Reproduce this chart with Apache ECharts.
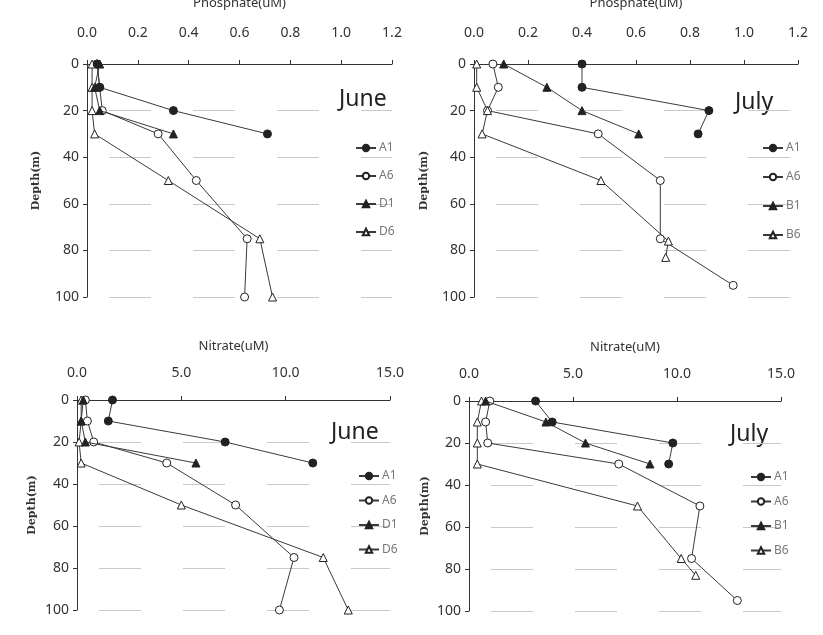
<!DOCTYPE html>
<html><head><meta charset="utf-8">
<script src="https://cdn.jsdelivr.net/npm/echarts@6/dist/echarts.min.js"></script>
<style>html,body{margin:0;padding:0;background:#fff}#c{width:823px;height:635px}</style>
</head><body><div id="c"></div>
<script>
// ---- data ----
const depthTicks = [0, 20, 40, 60, 80, 100];
const phosTicks = [0, 0.2, 0.4, 0.6, 0.8, 1.0, 1.2];
const nitTicks = [0, 5, 10, 15];

// June phosphate
const junPhosA1Depth = [0, 10, 20, 30];
const junPhosA1 = [0.04, 0.05, 0.34, 0.71];
const junPhosA6Depth = [0, 10, 20, 30, 50, 75, 100];
const junPhosA6 = [0.04, 0.05, 0.06, 0.28, 0.43, 0.63, 0.62];
const junPhosD1Depth = [0, 10, 20, 30];
const junPhosD1 = [0.05, 0.03, 0.05, 0.34];
const junPhosD6Depth = [0, 10, 20, 30, 50, 75, 100];
const junPhosD6 = [0.02, 0.02, 0.02, 0.03, 0.32, 0.68, 0.73];

// July phosphate
const julPhosA1Depth = [0, 10, 20, 30];
const julPhosA1 = [0.40, 0.40, 0.87, 0.83];
const julPhosA6Depth = [0, 10, 20, 30, 50, 75, 95];
const julPhosA6 = [0.07, 0.09, 0.05, 0.46, 0.69, 0.69, 0.96];
const julPhosB1Depth = [0, 10, 20, 30];
const julPhosB1 = [0.11, 0.27, 0.40, 0.61];
const julPhosB6Depth = [0, 10, 20, 30, 50, 76, 83];
const julPhosB6 = [0.01, 0.01, 0.05, 0.03, 0.47, 0.72, 0.71];

// June nitrate
const junNitA1Depth = [0, 10, 20, 30];
const junNitA1 = [1.7, 1.5, 7.1, 11.3];
const junNitA6Depth = [0, 10, 20, 30, 50, 75, 100];
const junNitA6 = [0.4, 0.5, 0.8, 4.3, 7.6, 10.4, 9.7];
const junNitD1Depth = [0, 10, 20, 30];
const junNitD1 = [0.3, 0.2, 0.4, 5.7];
const junNitD6Depth = [0, 10, 20, 30, 50, 75, 100];
const junNitD6 = [0.2, 0.2, 0.1, 0.2, 5.0, 11.8, 13.0];

// July nitrate
const julNitA1Depth = [0, 10, 20, 30];
const julNitA1 = [3.2, 4.0, 9.8, 9.6];
const julNitA6Depth = [0, 10, 20, 30, 50, 75, 95];
const julNitA6 = [1.0, 0.8, 0.9, 7.2, 11.1, 10.7, 12.9];
const julNitB1Depth = [0, 10, 20, 30];
const julNitB1 = [0.8, 3.7, 5.6, 8.7];
const julNitB6Depth = [0, 10, 20, 30, 50, 75, 83];
const julNitB6 = [0.6, 0.4, 0.4, 0.4, 8.1, 10.2, 10.9];

// ---- styling ----
const FONT = 'Noto Sans';
const LINE = '#3a3a3a';
const MARK = '#222';
const styles = {
  fc: {symbol: 'circle', fill: MARK},
  oc: {symbol: 'circle', fill: '#fff'},
  ft: {symbol: 'triangle', fill: MARK},
  ot: {symbol: 'triangle', fill: '#fff'}
};
function pairs(xs, ds) { return xs.map((v, i) => [v, ds[i]]); }
function mk(name, xs, ds, st, idx) {
  const s = styles[st];
  return {
    type: 'line', name: name, xAxisIndex: idx, yAxisIndex: idx,
    data: pairs(xs, ds), symbol: s.symbol, symbolSize: 8, showAllSymbol: true,
    lineStyle: {color: LINE, width: 1}, itemStyle: {color: s.fill, borderColor: MARK, borderWidth: 1},
    emphasis: {disabled: true}, animation: false, z: st.startsWith('o') ? 3 : 4
  };
}

const grids = [
  {left: 87, top: 64, width: 305, height: 233, outerBoundsMode: 'none', containLabel: false},
  {left: 474, top: 64, width: 324, height: 233, outerBoundsMode: 'none', containLabel: false},
  {left: 77, top: 400, width: 313, height: 210, outerBoundsMode: 'none', containLabel: false},
  {left: 469, top: 401, width: 312, height: 210, outerBoundsMode: 'none', containLabel: false}
];
const xCfg = [
  {name: 'Phosphate(uM)', max: 1.2, interval: 0.2, nameGap: 54, margin: 24},
  {name: 'Phosphate(uM)', max: 1.2, interval: 0.2, nameGap: 54, margin: 24},
  {name: 'Nitrate(uM)', max: 15, interval: 5, nameGap: 47, margin: 20},
  {name: 'Nitrate(uM)', max: 15, interval: 5, nameGap: 47, margin: 20}
];
const yGap = [45, 44, 39, 38];

const xAxes = xCfg.map((c, i) => ({
  type: 'value', gridIndex: i, position: 'top', min: 0, max: c.max, interval: c.interval,
  name: c.name, nameLocation: 'middle', nameGap: c.nameGap,
  nameTextStyle: {fontFamily: FONT, fontSize: 13, color: '#333'},
  axisLine: {show: true, lineStyle: {color: '#333', width: 1}},
  axisTick: {show: true, length: 4, lineStyle: {color: '#333'}},
  axisLabel: {fontFamily: FONT, fontSize: 14, color: '#333', margin: c.margin,
    formatter: v => v.toFixed(1)},
  splitLine: {show: false}
}));
const yAxes = grids.map((g, i) => ({
  type: 'value', gridIndex: i, inverse: true, min: 0, max: 100, interval: 20,
  name: 'Depth(m)', nameLocation: 'middle', nameGap: yGap[i],
  nameTextStyle: {fontFamily: 'DejaVu Serif', fontWeight: 'bold', fontSize: 11, color: '#333'},
  axisLine: {show: true, lineStyle: {color: '#333', width: 1}},
  axisTick: {show: true, length: 4, lineStyle: {color: '#333'}},
  axisLabel: {fontFamily: FONT, fontSize: 14, color: '#333', margin: 8},
  splitLine: {show: true, lineStyle: {color: '#c8c8c8', width: 1, type: [42, 42], dashOffset: -22}}
}));

const series = [
  mk('A1', junPhosA1, junPhosA1Depth, 'fc', 0),
  mk('A6', junPhosA6, junPhosA6Depth, 'oc', 0),
  mk('D1', junPhosD1, junPhosD1Depth, 'ft', 0),
  mk('D6', junPhosD6, junPhosD6Depth, 'ot', 0),
  mk('A1', julPhosA1, julPhosA1Depth, 'fc', 1),
  mk('A6', julPhosA6, julPhosA6Depth, 'oc', 1),
  mk('B1', julPhosB1, julPhosB1Depth, 'ft', 1),
  mk('B6', julPhosB6, julPhosB6Depth, 'ot', 1),
  mk('A1', junNitA1, junNitA1Depth, 'fc', 2),
  mk('A6', junNitA6, junNitA6Depth, 'oc', 2),
  mk('D1', junNitD1, junNitD1Depth, 'ft', 2),
  mk('D6', junNitD6, junNitD6Depth, 'ot', 2),
  mk('A1', julNitA1, julNitA1Depth, 'fc', 3),
  mk('A6', julNitA6, julNitA6Depth, 'oc', 3),
  mk('B1', julNitB1, julNitB1Depth, 'ft', 3),
  mk('B6', julNitB6, julNitB6Depth, 'ot', 3)
];

function legend(names, left, top, gap) {
  return {orient: 'vertical', left: left, top: top, itemGap: gap, itemWidth: 20, itemHeight: 8,
    data: names, selectedMode: false,
    textStyle: {fontFamily: FONT, fontSize: 12, color: '#777', padding: [0, 0, 0, -2]}};
}

const chart = echarts.init(document.getElementById('c'), null, {renderer: 'canvas'});
chart.setOption({
  backgroundColor: '#fff',
  animation: false,
  grid: grids,
  xAxis: xAxes,
  yAxis: yAxes,
  series: series,
  legend: [
    legend(['A1', 'A6', 'D1', 'D6'], 350, 137, 16),
    legend(['A1', 'A6', 'B1', 'B6'], 757, 137, 17),
    legend(['A1', 'A6', 'D1', 'D6'], 353, 465, 12.5),
    legend(['A1', 'A6', 'B1', 'B6'], 745, 466, 12.5)
  ],
  graphic: [
    {type: 'text', left: 339, top: 88, style: {text: 'June', fontFamily: FONT, fontSize: 23, fill: '#222'}},
    {type: 'text', left: 735, top: 91, style: {text: 'July', fontFamily: FONT, fontSize: 23, fill: '#222'}},
    {type: 'text', left: 331, top: 421, style: {text: 'June', fontFamily: FONT, fontSize: 23, fill: '#222'}},
    {type: 'text', left: 730, top: 423, style: {text: 'July', fontFamily: FONT, fontSize: 23, fill: '#222'}}
  ]
});
</script></body></html>
